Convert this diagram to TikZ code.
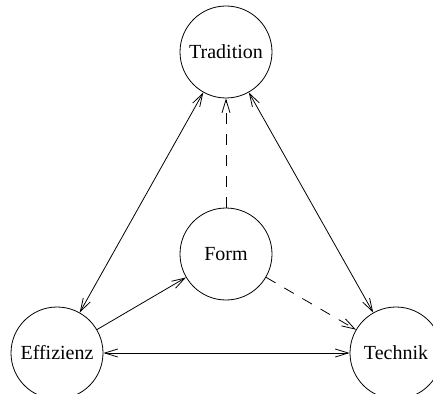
\documentclass[tikz,border=0pt]{standalone}
\usepackage{fontspec}
\setmainfont{Liberation Serif}
\usetikzlibrary{arrows.meta}
\begin{document}
\begin{tikzpicture}[x=1pt,y=-1pt,
  state/.style={circle,draw,line width=0.8pt,minimum size=92pt,inner sep=0pt,font=\fontsize{20}{24}\selectfont},
  conn/.style={line width=0.8pt,{Straight Barb[length=13pt,width=8pt]}-{Straight Barb[length=13pt,width=8pt]}},
  oneway/.style={line width=0.8pt,-{Straight Barb[length=13pt,width=8pt]}},
  dsh/.style={dash pattern=on 11pt off 10pt}]
\useasboundingbox (0,0) rectangle (433,393);
\node[state] (T) at (226,52) {Tradition};
\node[state] (F) at (226,254) {Form};
\node[state] (E) at (57,353) {Effizienz};
\node[state] (K) at (396,353) {Technik};
\draw[conn] (T) -- (E);
\draw[conn] (T) -- (K);
\draw[conn] (E) -- (K);
\draw[oneway] (E) -- (F);
\draw[oneway,dsh] (F) -- (T);
\draw[oneway,dsh] (F) -- (K);
\end{tikzpicture}
\end{document}
